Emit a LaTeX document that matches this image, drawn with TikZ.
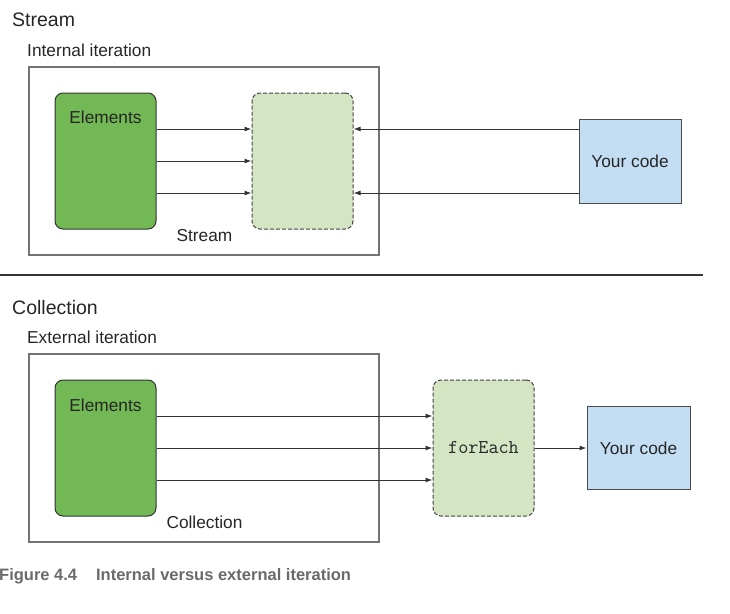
\documentclass[tikz,border=0pt]{standalone}
\usepackage{fontspec}
\setmainfont{Liberation Sans}
\usetikzlibrary{arrows.meta,positioning}

\definecolor{elemgreen}{HTML}{72B854}
\definecolor{pipegreen}{HTML}{D4E5C4}
\definecolor{codeblue}{HTML}{C3DDF3}
\definecolor{capgray}{HTML}{6A6A6A}

\begin{document}
\begin{tikzpicture}[
  x=1pt, y=-1pt,
  font=\fontsize{17.3}{20}\selectfont,
  txt/.style={inner sep=0pt, anchor=base, text=black!85},
  head/.style={txt, anchor=base west, font=\fontsize{19.5}{23}\selectfont},
  sub/.style={txt, anchor=base west},
  frame/.style={draw=black!55, line width=1.2pt, minimum width=350pt, minimum height=188pt},
  elems/.style={draw=black!80, fill=elemgreen, rounded corners=8pt, line width=1pt,
                minimum width=101pt, minimum height=136pt},
  pipe/.style={draw=black!75, fill=pipegreen, dash pattern=on 4pt off 2pt, rounded corners=8pt,
               line width=1pt, minimum width=101pt, minimum height=136pt, text=black!85},
  code/.style={draw=black!70, fill=codeblue, line width=1pt, minimum width=102pt,
               minimum height=84pt, text=black!85},
  arr/.style={-{Latex[length=7pt,width=5pt]}, draw=black!80, line width=1pt},
]
\useasboundingbox (0,0) rectangle (730,613);

% Stream: internal iteration.
\node[head] (stitle) at (12,27) {Stream};
\node[sub] (sint) at (27,56) {Internal iteration};
\node[frame] (sframe) at (204,161) {};
\node[elems] (sel) at (105.5,161) {};
\node[txt] (seltxt) at ([yshift=-31pt]sel.north) {Elements};
\node[pipe, right=95pt of sel] (spipe) {};
\node[code, right=225pt of spipe] (scode) {Your code};
\node[txt] (slbl) at (204.5,241) {Stream};

\foreach \dy in {32,0,-32}
  \draw[arr] ([yshift=\dy]sel.east) -- ([yshift=\dy]spipe.west);
\foreach \dy in {32,-32}
  \draw[arr] ([yshift=\dy]scode.west) -- ([yshift=\dy]spipe.east);

\draw[black!80, line width=1.3pt] (0,275) -- (703,275);

% Collection: external iteration.
\node[head] (ctitle) at (12,314) {Collection};
\node[sub] (cext) at (27,343) {External iteration};
\node[frame] (cframe) at (204,448) {};
\node[elems] (cel) at (105.5,448) {};
\node[txt] (celtxt) at ([yshift=-32pt]cel.north) {Elements};
\node[pipe, right=276pt of cel, font={\fontsize{19.6}{22}\selectfont\ttfamily}] (cpipe) {forEach};
\node[code, right=52pt of cpipe, minimum width=103pt, minimum height=83pt] (ccode) {Your code};
\node[txt] (clbl) at (204.5,528) {Collection};

\foreach \dy in {32,0,-32}
  \draw[arr] ([yshift=\dy]cel.east) -- ([yshift=\dy]cpipe.west);
\draw[arr] (cpipe) -- (ccode);

\node[txt, anchor=base west, font=\fontsize{16.5}{20}\selectfont\bfseries, text=capgray] (cap)
  at (-1,580) {Figure 4.4\hspace{1.15em}Internal versus external iteration};

\end{tikzpicture}
\end{document}
